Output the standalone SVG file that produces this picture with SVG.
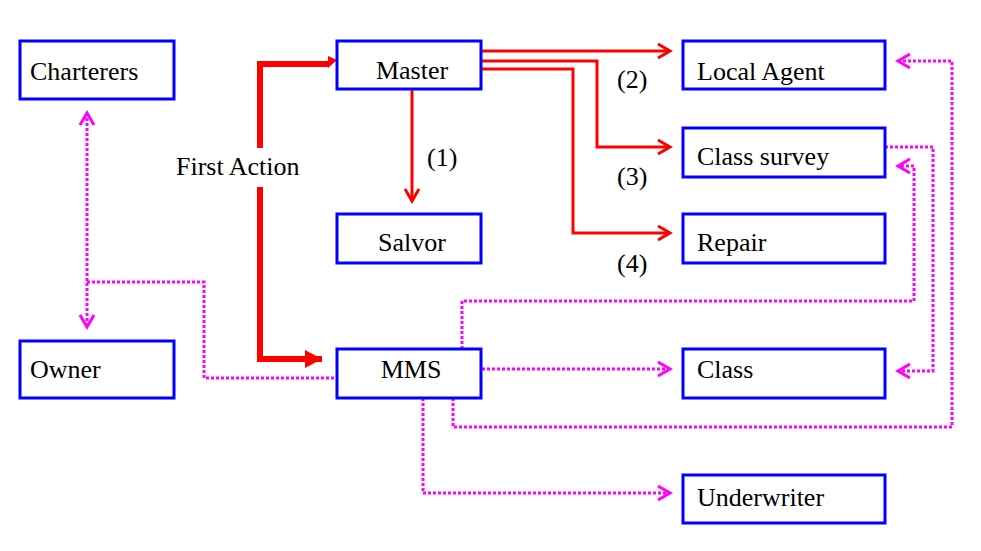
<svg xmlns="http://www.w3.org/2000/svg" width="981" height="551" viewBox="0 0 981 551">
<defs>
<style>
.box{fill:#fff;stroke:#0000ff;stroke-width:3}
.red{fill:none;stroke:#ff0000;stroke-width:3}
.thick{fill:none;stroke:#ff0000;stroke-width:6}
.mag{fill:none;stroke:#ff00ff;stroke-width:3;stroke-dasharray:3 2}
</style>
<marker id="ra" markerUnits="userSpaceOnUse" markerWidth="20" markerHeight="20" viewBox="-16 -10 20 20" refX="0" refY="0" orient="auto">
<path d="M-12,-7 L0,0 L-12,7" fill="none" stroke="#ff0000" stroke-width="3"/>
</marker>
<marker id="ma" markerUnits="userSpaceOnUse" markerWidth="20" markerHeight="20" viewBox="-16 -10 20 20" refX="0" refY="0" orient="auto">
<path d="M-12,-7 L0,0 L-12,7" fill="none" stroke="#ff00ff" stroke-width="3"/>
</marker>
<marker id="ma2" markerUnits="userSpaceOnUse" markerWidth="20" markerHeight="20" viewBox="-16 -10 20 20" refX="0" refY="0" orient="auto-start-reverse">
<path d="M-12,-7 L0,0 L-12,7" fill="none" stroke="#ff00ff" stroke-width="3"/>
</marker>
<marker id="fa" markerUnits="userSpaceOnUse" markerWidth="24" markerHeight="24" viewBox="-20 -12 24 24" refX="0" refY="0" orient="auto">
<path d="M-17,-9 L0,0 L-17,9 Z" fill="#ff0000"/>
</marker>
</defs>
<g id="connectors">
<path class="red" d="M482,51 H670" marker-end="url(#ra)"/>
<path class="red" d="M482,61 H597 V147 H670" marker-end="url(#ra)"/>
<path class="red" d="M482,69 H573 V233 H670" marker-end="url(#ra)"/>
<path class="red" d="M412,90 V201" marker-end="url(#ra)"/>
<path class="thick" d="M260,148 V64 H329"/>
<path d="M328,56 L337,60 L328,68 Z" fill="#ff0000"/>
<path class="thick" d="M260,187 V359 H322" marker-end="url(#fa)"/>
<path class="mag" d="M87,113 V327" marker-start="url(#ma2)" marker-end="url(#ma)"/>
<path class="mag" d="M87,282 H204 V378 H337"/>
<path class="mag" d="M462,349 V301 H914 V166 H898" marker-end="url(#ma)"/>
<path class="mag" d="M885,147 H933 V371 H898" marker-end="url(#ma)"/>
<path class="mag" d="M453,398 V427 H952 V61 H898" marker-end="url(#ma)"/>
<path class="mag" d="M482,369 H670" marker-end="url(#ma)"/>
<path class="mag" d="M423,398 V493 H670" marker-end="url(#ma)"/>
</g>
<g font-family="Liberation Serif, Times New Roman, serif" font-size="26" fill="#000">
<g id="charterers"><rect class="box" x="20" y="41" width="154" height="58"/><text x="30" y="80">Charterers</text></g>
<g id="owner"><rect class="box" x="20" y="341" width="154" height="57"/><text x="30" y="378">Owner</text></g>
<g id="master"><rect class="box" x="337" y="41" width="144" height="48"/><text x="412" y="79" text-anchor="middle">Master</text></g>
<g id="salvor"><rect class="box" x="337" y="214" width="144" height="49"/><text x="412" y="251" text-anchor="middle">Salvor</text></g>
<g id="mms"><rect class="box" x="337" y="349" width="144" height="49"/><text x="411" y="378" text-anchor="middle">MMS</text></g>
<g id="local-agent"><rect class="box" x="683" y="41" width="202" height="48"/><text x="697" y="80">Local Agent</text></g>
<g id="class-survey"><rect class="box" x="683" y="128" width="202" height="49"/><text x="697" y="165">Class survey</text></g>
<g id="repair"><rect class="box" x="683" y="214" width="202" height="49"/><text x="697" y="251">Repair</text></g>
<g id="class"><rect class="box" x="683" y="349" width="202" height="49"/><text x="697" y="378">Class</text></g>
<g id="underwriter"><rect class="box" x="683" y="475" width="202" height="48"/><text x="697" y="506">Underwriter</text></g>
<g id="labels">
<text x="176" y="175">First Action</text>
<text x="427" y="166">(1)</text>
<text x="617" y="88">(2)</text>
<text x="617" y="185">(3)</text>
<text x="617" y="272">(4)</text>
</g>
</g>
</svg>
